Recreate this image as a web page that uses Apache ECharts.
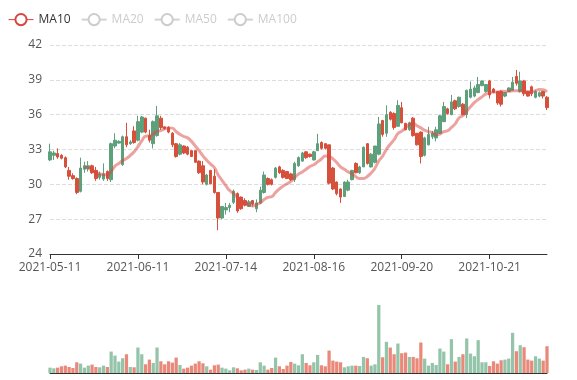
<!DOCTYPE html>
<html><head><meta charset="utf-8">
<script src="https://cdn.jsdelivr.net/npm/echarts@6/dist/echarts.min.js"></script>
<style>html,body{margin:0;padding:0;background:#fff}#c{width:577px;height:380px}</style>
</head><body><div id="c"></div>
<script>
const dates = ['2021-05-11','2021-05-12','2021-05-13','2021-05-14','2021-05-17','2021-05-18','2021-05-19','2021-05-20','2021-05-21','2021-05-24','2021-05-25','2021-05-26','2021-05-27','2021-05-28','2021-05-31','2021-06-01','2021-06-02','2021-06-03','2021-06-04','2021-06-07','2021-06-08','2021-06-09','2021-06-10','2021-06-11','2021-06-14','2021-06-15','2021-06-16','2021-06-17','2021-06-18','2021-06-21','2021-06-22','2021-06-23','2021-06-24','2021-06-25','2021-06-28','2021-06-29','2021-06-30','2021-07-01','2021-07-02','2021-07-05','2021-07-06','2021-07-07','2021-07-08','2021-07-09','2021-07-12','2021-07-13','2021-07-14','2021-07-15','2021-07-16','2021-07-19','2021-07-20','2021-07-21','2021-07-22','2021-07-23','2021-07-26','2021-07-27','2021-07-28','2021-07-29','2021-07-30','2021-08-02','2021-08-03','2021-08-04','2021-08-05','2021-08-06','2021-08-09','2021-08-10','2021-08-11','2021-08-12','2021-08-13','2021-08-16','2021-08-17','2021-08-18','2021-08-19','2021-08-20','2021-08-23','2021-08-24','2021-08-25','2021-08-26','2021-08-27','2021-08-30','2021-08-31','2021-09-01','2021-09-02','2021-09-07','2021-09-08','2021-09-09','2021-09-10','2021-09-13','2021-09-14','2021-09-15','2021-09-16','2021-09-17','2021-09-20','2021-09-21','2021-09-22','2021-09-23','2021-09-24','2021-09-27','2021-09-28','2021-09-29','2021-09-30','2021-10-01','2021-10-04','2021-10-05','2021-10-06','2021-10-07','2021-10-08','2021-10-11','2021-10-12','2021-10-13','2021-10-14','2021-10-15','2021-10-18','2021-10-19','2021-10-20','2021-10-21','2021-10-22','2021-10-25','2021-10-26','2021-10-27','2021-10-28','2021-10-29','2021-11-01','2021-11-02','2021-11-03','2021-11-04','2021-11-05','2021-11-08','2021-11-09','2021-11-10','2021-11-11'];

const opens = [32.1,32.5,32.65,32.5,32.3,31.2,30.75,30.5,29.4,31.3,31.35,31.6,31.2,30.6,30.45,31.1,30.4,33.3,33.55,31.7,
34.1,33.5,34.6,33.8,34.5,35.7,34.2,33.5,34.2,35.7,34.95,34.9,34.4,33.5,32.6,33.3,33.2,32.9,32.9,32.0,
31.6,30.0,31.2,30.7,29.3,27.1,27.8,28.0,28.45,29.2,28.9,28.6,28.1,28.6,27.9,28.4,29.3,30.5,30.4,30.6,
31.5,31.2,31.1,30.9,30.4,31.6,32.0,32.8,32.6,32.1,32.9,33.6,33.5,33.4,31.4,30.2,29.6,28.95,29.5,30.4,
31.8,31.0,31.5,33.5,31.5,31.9,32.6,35.5,34.4,36.2,36.1,35.0,36.6,35.25,34.7,35.7,34.4,34.5,32.5,33.4,
34.1,34.0,34.4,35.4,36.5,36.0,37.2,36.7,36.9,36.0,37.5,37.6,37.9,38.5,38.0,38.9,38.2,38.0,38.0,37.6,
38.0,38.1,39.3,38.0,38.9,38.0,38.4,37.5,37.6,38.0,37.5];
const closes = [32.8,32.7,32.35,32.25,31.5,30.7,30.5,29.3,31.4,31.6,31.6,31.0,30.5,30.9,30.9,30.5,33.5,33.8,33.7,34.1,
33.4,33.65,33.6,35.4,35.8,34.5,33.8,35.4,35.9,34.9,34.8,34.5,33.4,32.4,33.4,32.7,32.6,32.4,31.9,31.0,
30.2,30.8,30.05,29.3,27.1,28.1,28.0,28.2,29.4,27.7,27.9,28.2,28.5,28.3,28.4,29.5,30.8,30.0,30.0,31.4,
31.0,30.6,30.5,30.4,31.8,32.3,32.7,32.3,32.4,32.8,33.5,33.1,33.1,30.1,29.6,29.2,28.9,30.2,30.2,31.2,
31.0,31.5,33.2,31.8,32.6,33.3,35.2,34.3,36.0,35.6,34.9,36.8,35.3,34.7,35.3,34.2,33.4,32.4,34.0,34.3,
34.4,34.7,35.9,36.7,36.1,37.1,36.5,37.5,36.0,38.1,38.2,38.3,38.6,38.9,38.6,37.7,37.9,37.0,36.9,37.9,
38.3,38.8,38.7,38.9,37.8,37.6,37.8,38.0,37.9,37.6,36.6];
const lows = [32.0,32.1,32.2,32.15,31.4,30.4,30.4,29.15,29.3,31.0,31.1,30.9,30.3,30.4,30.3,30.3,30.2,33.1,33.5,31.6,
33.2,33.4,33.5,33.7,34.4,34.4,33.6,33.1,34.1,34.7,34.7,34.4,33.2,32.3,32.5,32.6,32.5,32.35,31.85,30.9,
30.0,29.9,30.0,29.2,26.05,27.0,27.4,27.6,28.3,27.55,27.8,28.1,28.05,28.1,27.6,28.3,29.2,29.9,29.9,30.5,
30.9,30.5,30.45,30.3,30.2,31.5,31.95,32.2,32.3,32.05,32.9,33.0,33.0,30.0,29.5,29.05,28.4,28.9,29.4,30.35,
30.95,30.9,31.5,31.7,31.45,31.8,32.5,34.1,34.1,35.5,34.7,34.95,35.25,34.65,34.6,34.1,33.35,31.8,32.4,33.35,
33.9,33.7,34.35,35.35,36.0,35.95,36.4,36.6,35.95,35.7,37.4,37.5,37.85,38.45,37.9,37.4,37.85,36.85,36.7,37.5,
37.95,38.1,38.5,37.9,37.6,37.55,37.6,37.4,37.5,37.4,36.4];
const highs = [33.5,32.9,33.1,32.6,32.4,31.5,30.95,30.6,32.3,31.95,32.0,31.7,31.5,31.1,31.8,31.2,33.6,34.4,33.8,34.2,
35.3,33.8,35.0,35.9,35.9,35.75,34.7,35.5,36.75,35.9,35.0,35.0,34.5,33.55,33.55,33.35,33.3,32.95,32.95,32.05,
32.0,30.9,31.25,31.3,29.3,28.1,28.4,28.4,29.55,29.3,28.95,28.8,28.65,28.65,28.7,29.8,31.1,30.6,30.5,31.5,
31.6,31.3,31.15,31.0,31.95,32.4,32.8,32.85,32.65,32.9,34.35,33.7,33.55,33.4,31.5,30.25,29.65,30.25,30.4,31.25,
31.9,31.6,33.25,33.55,32.7,33.3,35.8,35.55,36.8,36.3,36.2,37.25,37.1,35.3,35.4,35.8,34.4,34.55,34.1,34.95,
34.6,34.95,36.0,37.1,36.6,37.7,37.3,37.55,37.0,38.15,38.85,38.5,39.25,38.95,38.6,39.0,38.3,38.05,38.1,37.95,
38.35,39.25,39.85,39.7,39.0,38.05,38.5,38.1,38.0,38.05,37.6];
const volumes = [16,14,16,20,22,18,15,32,28,16,22,25,18,17,22,18,64,52,34,44,
56,18,17,76,56,26,40,30,76,35,26,35,31,46,24,13,16,22,28,35,
29,20,10,23,25,16,13,8,17,14,8,10,13,10,9,32,22,10,15,46,
20,12,22,33,28,23,56,30,23,32,54,23,20,67,37,34,32,17,20,22,
22,21,48,44,22,26,203,47,93,76,56,88,59,61,48,48,44,91,43,22,
30,24,73,64,26,101,34,48,56,103,58,50,98,32,32,21,35,28,38,40,
43,120,65,83,77,40,37,50,43,37,80];
const legendNames = ['MA10','MA20','MA50','MA100'];
const yTicks = [24, 42, 3];

const upColor = '#5e9f7c', downColor = '#d6503b';
const upVol = '#94c4a9', downVol = '#e8897a';

function calcMA(n) {
  const out = [];
  for (let i = 0; i < closes.length; i++) {
    if (i < n - 1) { out.push('-'); continue; }
    let s = 0;
    for (let j = 0; j < n; j++) s += closes[i - j];
    out.push(+(s / n).toFixed(3));
  }
  return out;
}
const kdata = opens.map((o, i) => [o, closes[i], lows[i], highs[i]]);
const font = 'Open Sans, sans-serif';
const chart = echarts.init(document.getElementById('c'), null, {renderer: 'canvas'});
const maColors = ['#d9463f', '#5470c6', '#91cc75', '#fac858'];
const maSeries = legendNames.map((nm, k) => ({
  name: nm, type: 'line', data: calcMA(parseInt(nm.slice(2))),
  smooth: true, showSymbol: false, symbol: 'emptyCircle',
  color: maColors[k],
  lineStyle: {width: 3, opacity: 0.5}
}));
chart.setOption({
  animation: false,
  textStyle: {fontFamily: font},
  legend: {
    data: legendNames, left: 3, top: 8, itemGap: 10,
    textStyle: {fontSize: 12, color: '#333', fontFamily: font},
    inactiveColor: '#ccc', inactiveBorderColor: '#ccc', inactiveBorderWidth: 1,
    lineStyle: {width: 1, opacity: 1},
    itemStyle: {borderWidth: 1},
    selected: {MA10: true, MA20: false, MA50: false, MA100: false}
  },
  grid: [
    {left: 50, right: 30, top: 45, height: 209},
    {left: 50, right: 30, top: 305, bottom: 7}
  ],
  xAxis: [
    {type: 'category', data: dates, boundaryGap: false, gridIndex: 0,
     axisLine: {lineStyle: {color: '#333'}},
     axisTick: {alignWithLabel: true, lineStyle: {color: '#333'}},
     axisLabel: {interval: 22, color: '#555', fontSize: 12, fontFamily: font},
     splitLine: {show: false}},
    {type: 'category', data: dates, boundaryGap: false, gridIndex: 1,
     axisLine: {lineStyle: {color: '#333'}},
     axisTick: {show: false}, axisLabel: {show: false}, splitLine: {show: false}}
  ],
  yAxis: [
    {type: 'value', gridIndex: 0, min: yTicks[0], max: yTicks[1], interval: yTicks[2],
     axisLine: {show: false}, axisTick: {show: false},
     axisLabel: {color: '#555', fontSize: 12, fontFamily: font},
     splitLine: {lineStyle: {type: 'dashed', color: '#ddd'}}},
    {type: 'value', gridIndex: 1, min: 0, max: 'dataMax', show: false, splitLine: {show: false}}
  ],
  series: [
    {name: 'K', type: 'candlestick', data: kdata, barWidth: 3,
     itemStyle: {color: upColor, color0: downColor, borderColor: upColor, borderColor0: downColor, borderWidth: 1}},
    ...maSeries,
    {name: 'Volume', type: 'bar', xAxisIndex: 1, yAxisIndex: 1, data: volumes, barWidth: '85%',
     itemStyle: {color: p => closes[p.dataIndex] >= opens[p.dataIndex] ? upVol : downVol}}
  ]
});
</script></body></html>
